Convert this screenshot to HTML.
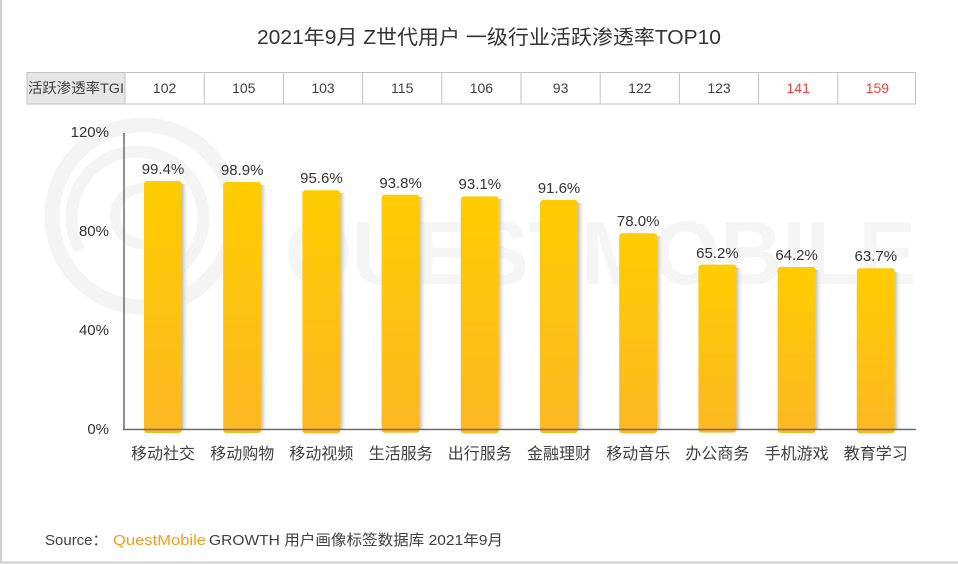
<!DOCTYPE html>
<html><head><meta charset="utf-8"><style>
html,body{margin:0;padding:0;background:#fff;}
svg{display:block;}
text{font-family:"Liberation Sans","Noto Sans CJK SC",sans-serif;}
</style></head><body>
<svg width="958" height="564" viewBox="0 0 958 564" xmlns="http://www.w3.org/2000/svg">
<defs>
<linearGradient id="bg" x1="0" y1="0" x2="0" y2="1">
<stop offset="0" stop-color="#ffcc00"/>
<stop offset="1" stop-color="#fdb823"/>
</linearGradient>
<linearGradient id="sh" x1="0" y1="0" x2="1" y2="0">
<stop offset="0" stop-color="#bdbdbd"/>
<stop offset="1" stop-color="#ffffff" stop-opacity="0"/>
</linearGradient>
</defs>
<rect x="0" y="0" width="958" height="564" fill="#fff"/>
<!-- frame -->
<line x1="1" y1="0" x2="1" y2="563" stroke="#cfcfcf" stroke-width="2"/>
<line x1="0" y1="562.5" x2="958" y2="562.5" stroke="#cfcfcf" stroke-width="2"/>

<!-- watermark -->
<g fill="none" stroke="#f4f4f4">
<circle cx="143" cy="216" r="91" stroke-width="15"/>
<path d="M 80 250 A 66 66 0 1 1 180 268" stroke-width="12"/>
<circle cx="143" cy="216" r="28" stroke-width="10"/>
</g>
<text x="285" y="284" font-size="90" fill="#f5f5f5" textLength="631" lengthAdjust="spacingAndGlyphs" font-weight="bold">QUESTMOBILE</text>

<!-- title -->
<text x="257" y="44" font-size="20" fill="#333" textLength="464" lengthAdjust="spacingAndGlyphs">2021年9月 Z世代用户 一级行业活跃渗透率TOP10</text>

<!-- table -->
<rect x="27" y="72" width="98" height="32" fill="#e6e6e6"/>
<g stroke="#c3c3c3" stroke-width="1">
<rect x="27" y="72.5" width="888.5" height="31.5" fill="none"/>
<line x1="125" y1="72" x2="125" y2="104"/>
<line x1="204.2" y1="72" x2="204.2" y2="104"/>
<line x1="283.4" y1="72" x2="283.4" y2="104"/>
<line x1="362.6" y1="72" x2="362.6" y2="104"/>
<line x1="441.8" y1="72" x2="441.8" y2="104"/>
<line x1="521" y1="72" x2="521" y2="104"/>
<line x1="600.2" y1="72" x2="600.2" y2="104"/>
<line x1="679.4" y1="72" x2="679.4" y2="104"/>
<line x1="758.6" y1="72" x2="758.6" y2="104"/>
<line x1="837.8" y1="72" x2="837.8" y2="104"/>
</g>
<text x="28" y="93" font-size="14" fill="#404040" textLength="96" lengthAdjust="spacingAndGlyphs">活跃渗透率TGI</text>
<g font-size="14" fill="#404040" text-anchor="middle">
<text x="164.6" y="93">102</text>
<text x="243.8" y="93">105</text>
<text x="323" y="93">103</text>
<text x="402.2" y="93">115</text>
<text x="481.4" y="93">106</text>
<text x="560.6" y="93">93</text>
<text x="639.8" y="93">122</text>
<text x="719" y="93">123</text>
<text x="798.2" y="93" fill="#ff3b3b">141</text>
<text x="877.4" y="93" fill="#ff3b3b">159</text>
</g>

<!-- y labels -->
<g font-size="15" fill="#333" text-anchor="end">
<text x="109" y="137">120%</text>
<text x="109" y="236">80%</text>
<text x="109" y="335">40%</text>
<text x="109" y="434">0%</text>
</g>

<!-- bars -->
<g>
<!-- shadows -->
<rect x="182" y="184" width="7" height="245" fill="url(#sh)"/>
<rect x="261.2" y="185" width="7" height="244" fill="url(#sh)"/>
<rect x="340.4" y="193" width="7" height="236" fill="url(#sh)"/>
<rect x="419.6" y="197" width="7" height="232" fill="url(#sh)"/>
<rect x="498.8" y="199" width="7" height="230" fill="url(#sh)"/>
<rect x="578" y="203" width="7" height="226" fill="url(#sh)"/>
<rect x="657.2" y="236" width="7" height="193" fill="url(#sh)"/>
<rect x="736.4" y="268" width="7" height="161" fill="url(#sh)"/>
<rect x="815.6" y="270" width="7" height="159" fill="url(#sh)"/>
<rect x="894.8" y="272" width="7" height="157" fill="url(#sh)"/>
<!-- bars -->
<rect x="144" y="181" width="38" height="252" rx="3" fill="url(#bg)"/>
<rect x="223.2" y="182" width="38" height="251" rx="3" fill="url(#bg)"/>
<rect x="302.4" y="190.3" width="38" height="243" rx="3" fill="url(#bg)"/>
<rect x="381.6" y="194.7" width="38" height="238" rx="3" fill="url(#bg)"/>
<rect x="460.8" y="196.4" width="38" height="237" rx="3" fill="url(#bg)"/>
<rect x="540" y="200" width="38" height="233" rx="3" fill="url(#bg)"/>
<rect x="619.2" y="233.3" width="38" height="200" rx="3" fill="url(#bg)"/>
<rect x="698.4" y="264.6" width="38" height="168" rx="3" fill="url(#bg)"/>
<rect x="777.6" y="267" width="38" height="166" rx="3" fill="url(#bg)"/>
<rect x="856.8" y="268.3" width="38" height="165" rx="3" fill="url(#bg)"/>
</g>

<!-- axes -->
<line x1="124" y1="133" x2="124" y2="430" stroke="#6b6b6b" stroke-width="1.5"/>
<line x1="123" y1="429.5" x2="916" y2="429.5" stroke="#6b6b6b" stroke-width="1.5"/>

<!-- value labels -->
<g font-size="15" fill="#333" text-anchor="middle">
<text x="163" y="174">99.4%</text>
<text x="242.2" y="175">98.9%</text>
<text x="321.4" y="183">95.6%</text>
<text x="400.6" y="188">93.8%</text>
<text x="479.8" y="189">93.1%</text>
<text x="559" y="193">91.6%</text>
<text x="638.2" y="226">78.0%</text>
<text x="717.4" y="258">65.2%</text>
<text x="796.6" y="260">64.2%</text>
<text x="875.8" y="261">63.7%</text>
</g>

<!-- category labels -->
<g font-size="16" fill="#404040" text-anchor="middle">
<text x="163" y="459">移动社交</text>
<text x="242.2" y="459">移动购物</text>
<text x="321.4" y="459">移动视频</text>
<text x="400.6" y="459">生活服务</text>
<text x="479.8" y="459">出行服务</text>
<text x="559" y="459">金融理财</text>
<text x="638.2" y="459">移动音乐</text>
<text x="717.4" y="459">办公商务</text>
<text x="796.6" y="459">手机游戏</text>
<text x="875.8" y="459">教育学习</text>
</g>

<!-- source -->
<text x="45" y="545" font-size="15" fill="#404040">Source：</text>
<text x="113" y="545" font-size="15" fill="#f89a1c" textLength="93" lengthAdjust="spacingAndGlyphs">QuestMobile</text>
<text x="209" y="545" font-size="15" fill="#404040" textLength="294" lengthAdjust="spacingAndGlyphs">GROWTH 用户画像标签数据库 2021年9月</text>
</svg>
</body></html>
